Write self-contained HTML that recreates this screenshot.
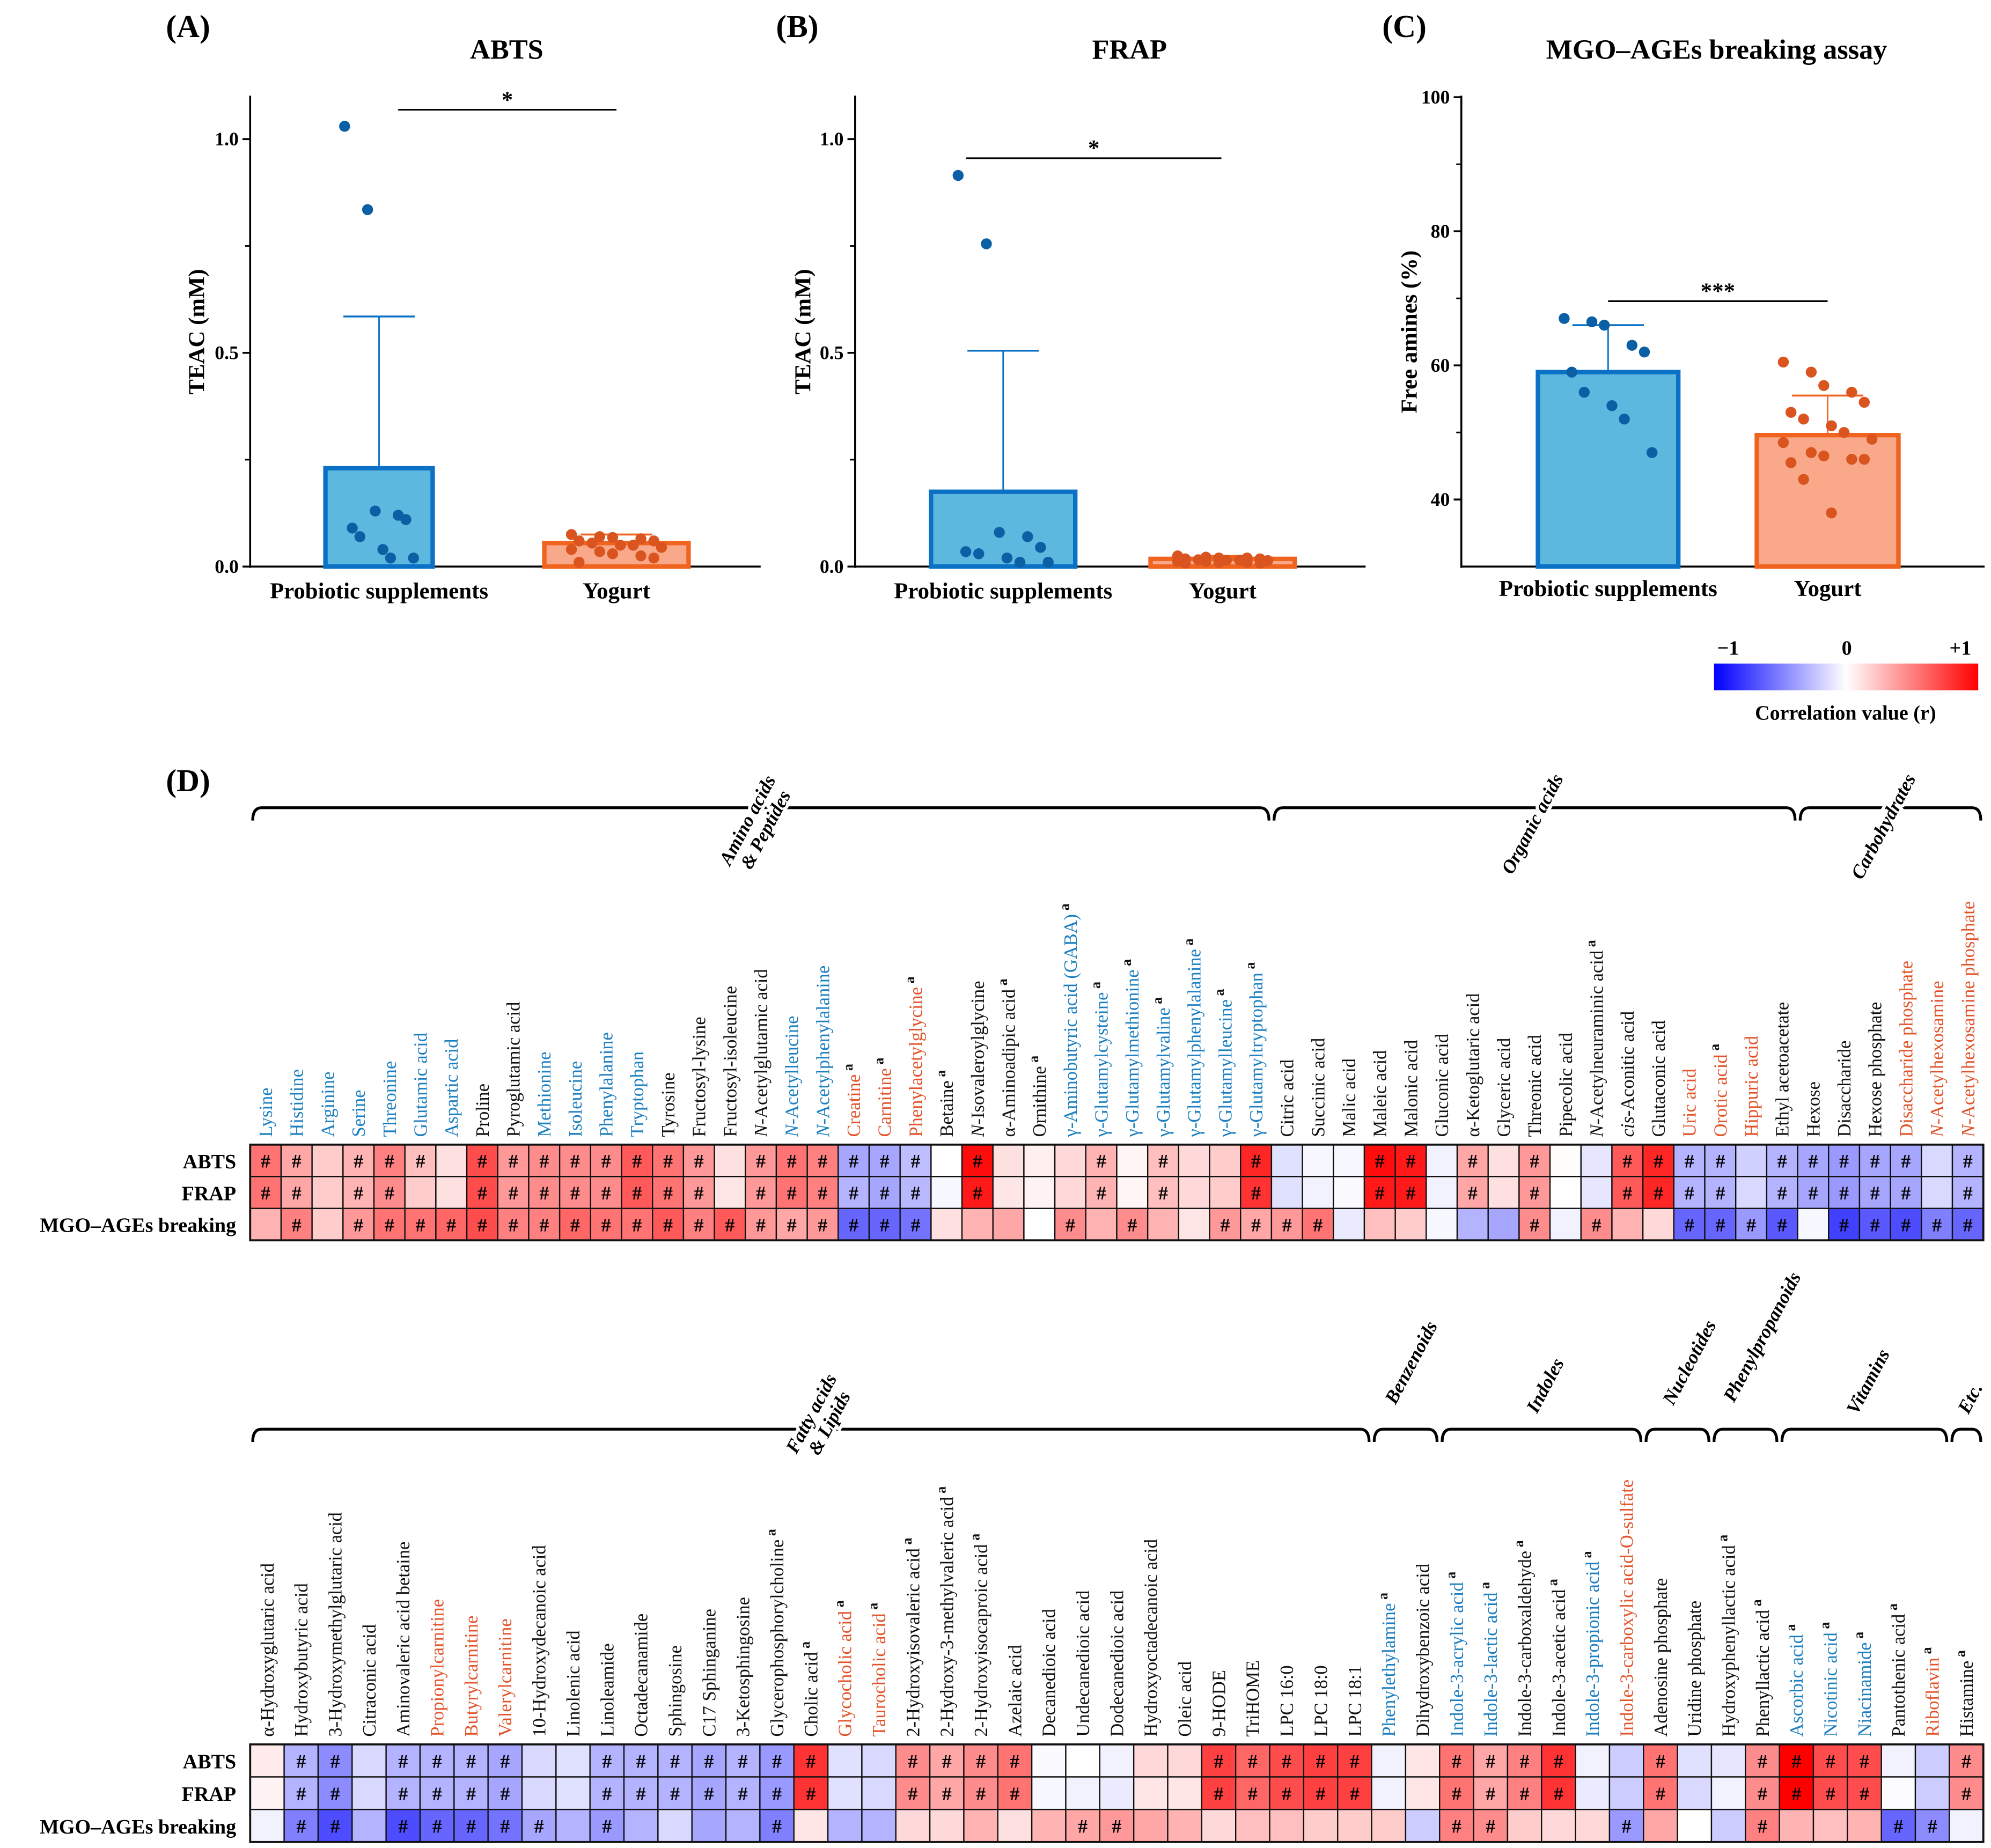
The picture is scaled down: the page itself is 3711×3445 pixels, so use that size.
<!DOCTYPE html>
<html><head><meta charset="utf-8"><style>
html,body{margin:0;padding:0;background:#fff}
svg{display:block}
text{font-family:"Liberation Serif",serif}
</style></head><body>
<svg id="fig" xmlns="http://www.w3.org/2000/svg" width="3711" height="3445" viewBox="0 0 1560 1448.2">
<g id="g"></g>
</svg>
<script>
// ---------- bar chart data ----------
const groups = ["Probiotic supplements","Yogurt"];
const abtsMeans = [0.23, 0.055];
const abtsErr = [0.585, 0.075];
const abtsProb = [1.03,0.835,0.13,0.12,0.11,0.09,0.07,0.04,0.02,0.02];
const abtsYog = [0.075,0.07,0.068,0.065,0.06,0.06,0.055,0.05,0.05,0.045,0.04,0.035,0.03,0.025,0.02,0.01];
const frapMeans = [0.175, 0.018];
const frapErr = [0.505, 0.025];
const frapProb = [0.915,0.755,0.08,0.07,0.045,0.035,0.03,0.02,0.01,0.01];
const frapYog = [0.025,0.022,0.02,0.02,0.018,0.018,0.016,0.015,0.015,0.014,0.012,0.012,0.01,0.01,0.008,0.008];
const mgoMeans = [59, 49.6];
const mgoErr = [66, 55.5];
const mgoProb = [67,66.5,66,63,62,59,56,54,52,47];
const mgoYog = [60.5,59,57,56,54.5,53,52,51,50,49,48.5,47,46.5,46,46,45.5,43,38];
const tickABTS = [0,0.5,1.0];
const tickABTSLabels = ["0.0","0.5","1.0"];
const tickMGO = [40,60,80,100];

// ---------- heatmap data ----------
const topNames = ["Lysine","Histidine","Arginine","Serine","Threonine","Glutamic acid","Aspartic acid","Proline","Pyroglutamic acid","Methionine","Isoleucine","Phenylalanine","Tryptophan","Tyrosine","Fructosyl-lysine","Fructosyl-isoleucine","N-Acetylglutamic acid","N-Acetylleucine","N-Acetylphenylalanine","Creatine","Carnitine","Phenylacetylglycine","Betaine","N-Isovaleroylglycine","α-Aminoadipic acid","Ornithine","γ-Aminobutyric acid (GABA)","γ-Glutamylcysteine","γ-Glutamylmethionine","γ-Glutamylvaline","γ-Glutamylphenylalanine","γ-Glutamylleucine","γ-Glutamyltryptophan","Citric acid","Succinic acid","Malic acid","Maleic acid","Malonic acid","Gluconic acid","α-Ketoglutaric acid","Glyceric acid","Threonic acid","Pipecolic acid","N-Acetylneuraminic acid","cis-Aconitic acid","Glutaconic acid","Uric acid","Orotic acid","Hippuric acid","Ethyl acetoacetate","Hexose","Disaccharide","Hexose phosphate","Disaccharide phosphate","N-Acetylhexosamine","N-Acetylhexosamine phosphate"];
const topLabelTone = ["b","b","b","b","b","b","b","k","k","b","b","b","b","k","k","k","k","b","b","o","o","o","k","k","k","k","b","b","b","b","b","b","b","k","k","k","k","k","k","k","k","k","k","k","k","k","o","o","o","k","k","k","k","o","o","o"];
const topSup = [19,20,21,22,24,25,26,27,28,29,30,31,32,43,47];
const topAbts = [0.55,0.35,0.2,0.3,0.5,0.25,0.12,0.7,0.4,0.45,0.45,0.45,0.65,0.55,0.4,0.12,0.4,0.55,0.5,-0.35,-0.35,-0.25,0,0.95,0.12,0.06,0.15,0.3,0.04,0.25,0.15,0.2,0.85,-0.12,-0.03,-0.03,0.95,0.9,-0.05,0.35,0.12,0.4,0.01,-0.1,0.65,0.85,-0.3,-0.3,-0.18,-0.3,-0.35,-0.4,-0.35,-0.35,-0.15,-0.3];
const topFrap = [0.55,0.35,0.2,0.3,0.45,0.2,0.12,0.7,0.4,0.45,0.45,0.45,0.65,0.55,0.4,0.1,0.4,0.55,0.5,-0.3,-0.35,-0.28,-0.03,0.9,0.1,0.05,0.15,0.3,0.04,0.25,0.15,0.2,0.8,-0.12,-0.05,-0.02,0.9,0.9,-0.05,0.35,0.12,0.4,0,-0.1,0.65,0.85,-0.3,-0.3,-0.15,-0.3,-0.35,-0.4,-0.35,-0.35,-0.15,-0.3];
const topMgo = [0.3,0.5,0.2,0.4,0.55,0.55,0.6,0.7,0.5,0.5,0.6,0.55,0.55,0.65,0.5,0.65,0.4,0.35,0.4,-0.6,-0.6,-0.55,0.12,0.3,0.35,0,0.45,0.3,0.45,0.3,0.1,0.4,0.35,0.4,0.55,-0.08,0.25,0.2,-0.03,-0.3,-0.35,0.45,-0.05,0.45,0.3,0.15,-0.6,-0.6,-0.4,-0.65,-0.03,-0.75,-0.65,-0.7,-0.5,-0.6];
const topSigAbts = [1,1,0,1,1,1,0,1,1,1,1,1,1,1,1,0,1,1,1,1,1,1,0,1,0,0,0,1,0,1,0,0,1,0,0,0,1,1,0,1,0,1,0,0,1,1,1,1,0,1,1,1,1,1,0,1];
const topSigFrap = [1,1,0,1,1,0,0,1,1,1,1,1,1,1,1,0,1,1,1,1,1,1,0,1,0,0,0,1,0,1,0,0,1,0,0,0,1,1,0,1,0,1,0,0,1,1,1,1,0,1,1,1,1,1,0,1];
const topSigMgo = [0,1,0,1,1,1,1,1,1,1,1,1,1,1,1,1,1,1,1,1,1,1,0,0,0,0,1,0,1,0,0,1,1,1,1,0,0,0,0,0,0,1,0,1,0,0,1,1,1,1,0,1,1,1,1,1];

const botNames = ["α-Hydroxyglutaric acid","Hydroxybutyric acid","3-Hydroxymethylglutaric acid","Citraconic acid","Aminovaleric acid betaine","Propionylcarnitine","Butyrylcarnitine","Valerylcarnitine","10-Hydroxydecanoic acid","Linolenic acid","Linoleamide","Octadecanamide","Sphingosine","C17 Sphinganine","3-Ketosphingosine","Glycerophosphorylcholine","Cholic acid","Glycocholic acid","Taurocholic acid","2-Hydroxyisovaleric acid","2-Hydroxy-3-methylvaleric acid","2-Hydroxyisocaproic acid","Azelaic acid","Decanedioic acid","Undecanedioic acid","Dodecanedioic acid","Hydroxyoctadecanoic acid","Oleic acid","9-HODE","TriHOME","LPC 16:0","LPC 18:0","LPC 18:1","Phenylethylamine","Dihydroxybenzoic acid","Indole-3-acrylic acid","Indole-3-lactic acid","Indole-3-carboxaldehyde","Indole-3-acetic acid","Indole-3-propionic acid","Indole-3-carboxylic acid-O-sulfate","Adenosine phosphate","Uridine phosphate","Hydroxyphenyllactic acid","Phenyllactic acid","Ascorbic acid","Nicotinic acid","Niacinamide","Pantothenic acid","Riboflavin","Histamine"];
const botLabelTone = ["k","k","k","k","k","o","o","o","k","k","k","k","k","k","k","k","k","o","o","k","k","k","k","k","k","k","k","k","k","k","k","k","k","b","k","b","b","k","k","b","o","k","k","k","k","b","b","b","k","o","k"];
const botSup = [15,16,17,18,19,20,21,33,35,36,37,38,39,43,44,45,46,47,48,49,50];
const botAbts = [0.08,-0.3,-0.45,-0.15,-0.3,-0.3,-0.3,-0.35,-0.15,-0.12,-0.3,-0.3,-0.3,-0.35,-0.3,-0.4,0.8,-0.12,-0.15,0.45,0.35,0.45,0.55,-0.02,0,-0.05,0.15,0.15,0.75,0.6,0.7,0.75,0.75,-0.05,0.1,0.55,0.35,0.5,0.8,-0.05,-0.2,0.55,-0.12,-0.1,0.45,1.0,0.7,0.7,-0.05,-0.2,0.45];
const botFrap = [0.05,-0.3,-0.45,-0.15,-0.3,-0.3,-0.3,-0.35,-0.15,-0.12,-0.3,-0.3,-0.3,-0.35,-0.3,-0.4,0.8,-0.12,-0.15,0.45,0.35,0.45,0.55,-0.03,-0.05,-0.08,0.1,0.1,0.75,0.6,0.7,0.75,0.75,-0.05,0.1,0.55,0.35,0.5,0.8,-0.08,-0.2,0.55,-0.15,-0.05,0.45,1.0,0.7,0.7,-0.01,-0.2,0.45];
const botMgo = [-0.05,-0.5,-0.7,-0.3,-0.7,-0.6,-0.6,-0.55,-0.35,-0.3,-0.4,-0.3,-0.15,-0.35,-0.3,-0.5,0.1,-0.3,-0.3,0.15,0.15,0.3,0.12,0.3,0.35,0.4,0.35,0.3,0.15,0.25,0.25,0.2,0.2,0.2,-0.2,0.5,0.45,0.2,0.15,0.15,-0.4,0.35,0,-0.2,0.5,0.3,0.25,0.3,-0.6,-0.45,-0.05];
const botSigAbts = [0,1,1,0,1,1,1,1,0,0,1,1,1,1,1,1,1,0,0,1,1,1,1,0,0,0,0,0,1,1,1,1,1,0,0,1,1,1,1,0,0,1,0,0,1,1,1,1,0,0,1];
const botSigFrap = botSigAbts.slice();
const botSigMgo = [0,1,1,0,1,1,1,1,1,0,1,0,0,0,0,1,0,0,0,0,0,0,0,0,1,1,0,0,0,0,0,0,0,0,0,1,1,0,0,0,1,0,0,0,1,0,0,0,1,1,0];

const NS="http://www.w3.org/2000/svg";
const root=document.getElementById('g');
function el(tag,attrs,parent,txt){const e=document.createElementNS(NS,tag);for(const k in attrs)e.setAttribute(k,attrs[k]);if(txt!==undefined)e.textContent=txt;(parent||root).appendChild(e);return e;}

// ---------- bar panels ----------
function panel(opt){
  const g=el('g',{});
  
  
  const y0=444, ytop=75;
  const sy=v=>y0-(v-opt.min)*opt.k;
  const ax=el('line',{x1:opt.ax,y1:ytop,x2:opt.ax,y2:y0+1,stroke:'#000','stroke-width':1.5},g);
  
  
  const xa=el('line',{x1:opt.ax,y1:y0,x2:opt.ax+opt.xlen,y2:y0,stroke:'#000','stroke-width':1.5},g);
  
  
  opt.ticks.forEach((t,i)=>{
    el('line',{x1:opt.ax-6,y1:sy(t),x2:opt.ax,y2:sy(t),stroke:'#000','stroke-width':1.5},g);
    const tl=el('text',{x:opt.ax-9,y:sy(t)+5,'text-anchor':'end','font-size':15,'font-weight':'bold'},g,opt.tickLabels[i]);
    
    
  });
  if(opt.minor){opt.minor.forEach(t=>el('line',{x1:opt.ax-4,y1:sy(t),x2:opt.ax,y2:sy(t),stroke:'#000','stroke-width':1.2},g));}
  const cols=[{f:'#5db8e0',s:'#0a71c4',p:'#0b5fa5'},{f:'#f9a98a',s:'#f06420',p:'#d9541e'}];
  opt.bars.forEach((b,i)=>{
    const c=cols[i];
    const top=sy(opt.means[i]);
    const eTop=sy(opt.err[i]);
    const el1=el('line',{x1:b.cx,y1:top,x2:b.cx,y2:eTop,stroke:c.s,'stroke-width':1.2},g);
    
    
    el('line',{x1:b.cx-b.cap,y1:eTop,x2:b.cx+b.cap,y2:eTop,stroke:c.s,'stroke-width':1.5},g);
    const r=el('rect',{x:b.cx-b.w/2,y:top,width:b.w,height:y0-top,fill:c.f,stroke:c.s,'stroke-width':3.5},g);
    
    
    const pts=opt.pts[i];
    pts.forEach((v,j)=>{
      const off=((j%5)-2)*b.w/7 + ((j%2)?3:-3);
      const cc=el('circle',{cx:b.cx+off,cy:sy(v),r:4.3,fill:c.p},g);
      
      
    });
    const xl=el('text',{x:b.cx,y:opt.xly,'text-anchor':'middle','font-size':18,'font-weight':'bold'},g,groups[i]);
    
    
  });
  const sl=el('line',{x1:opt.sig[0],y1:opt.sig[2],x2:opt.sig[1],y2:opt.sig[2],stroke:'#000','stroke-width':1.3},g);
  
  
  const st=el('text',{x:(opt.sig[0]+opt.sig[1])/2,y:opt.sig[2]-2,'text-anchor':'middle','font-size':18,'font-weight':'bold'},g,opt.star);
  
  
  const yl=el('text',{x:0,y:0,transform:`translate(${opt.ylx},260) rotate(-90)`,'text-anchor':'middle','font-size':18,'font-weight':'bold'},g,opt.ylabel);
  
  
  const tt=el('text',{x:opt.tx,y:46,'text-anchor':'middle','font-size':22,'font-weight':'bold'},g,opt.title);
  
  
  const pl=el('text',{x:opt.px,y:29,'text-anchor':'start','font-size':25,'font-weight':'bold'},g,opt.plabel);
  
  
}
panel({name:'abts-chart',ax:196,xlen:400,min:0,k:335,ticks:tickABTS,tickLabels:tickABTSLabels,minor:[0.25,0.75],
  bars:[{cx:297,w:84,cap:28},{cx:483,w:113,cap:28}],means:abtsMeans,err:abtsErr,pts:[abtsProb,abtsYog],xly:469,
  sig:[312,483,86],star:'*',ylabel:'TEAC (mM)',ylx:160,title:'ABTS',tx:397,plabel:'(A)',px:130});
panel({name:'frap-chart',ax:670,xlen:400,min:0,k:335,ticks:tickABTS,tickLabels:tickABTSLabels,minor:[0.25,0.75],
  bars:[{cx:786,w:113,cap:28},{cx:958,w:113,cap:20}],means:frapMeans,err:frapErr,pts:[frapProb,frapYog],xly:469,
  sig:[757,957,124],star:'*',ylabel:'TEAC (mM)',ylx:635,title:'FRAP',tx:885,plabel:'(B)',px:608});
panel({name:'mgo-chart',ax:1145,xlen:410,min:30,k:5.255,ticks:tickMGO,tickLabels:tickMGO.map(String),minor:[50,70,90],
  bars:[{cx:1260,w:110,cap:28},{cx:1432,w:111,cap:28}],means:mgoMeans,err:mgoErr,pts:[mgoProb,mgoYog],xly:467,
  sig:[1260,1432,236],star:'***',ylabel:'Free amines (%)',ylx:1110,title:'MGO–AGEs breaking assay',tx:1345,plabel:'(C)',px:1083});

// ---------- colorbar ----------
const defs=el('defs',{});
const lg=el('linearGradient',{id:'cb',x1:0,x2:1,y1:0,y2:0},defs);
el('stop',{offset:0,'stop-color':'#0000ff'},lg);el('stop',{offset:0.5,'stop-color':'#ffffff'},lg);el('stop',{offset:1,'stop-color':'#ff0000'},lg);
const cb=el('rect',{x:1343,y:520,width:207,height:21,fill:'url(#cb)'});


[['−1',1354],['0',1447],['+1',1536]].forEach(a=>{const t=el('text',{x:a[1],y:513,'text-anchor':'middle','font-size':16,'font-weight':'bold'},root,a[0]);
  
  });
const cbt=el('text',{x:1446,y:564,'text-anchor':'middle','font-size':16,'font-weight':'bold'},root,'Correlation value (r)');


const dl=el('text',{x:130,y:620,'font-size':25,'font-weight':'bold'},root,'(D)');



// ---------- heatmaps ----------
function color(r){
  r=Math.max(-1,Math.min(1,r));
  if(r>=0){const v=Math.round(255*(1-r));return `rgb(255,${v},${v})`;}
  const v=Math.round(255*(1+r));return `rgb(${v},${v},255)`;
}
const toneCol={b:'#1c7fc0',o:'#e2532a',k:'#111'};
const italicPref=["N-","cis-"];
function heat(opt){
  const g=el('g',{});
  
  
  const n=opt.names.length, x0=196, x1=1554, cw=(x1-x0)/n;
  const rows=[[opt.a,opt.sa],[opt.f,opt.sf],[opt.m,opt.sm]];
  ['ABTS','FRAP','MGO–AGEs breaking'].forEach((lab,ri)=>{
    const t=el('text',{x:185,y:opt.y+ri*opt.rh+opt.rh/2+6,'text-anchor':'end','font-size':16,'font-weight':'bold'},g,lab);
    
    
  });
  rows.forEach((row,ri)=>{
    row[0].forEach((v,ci)=>{
      const r=el('rect',{x:x0+ci*cw,y:opt.y+ri*opt.rh,width:cw,height:opt.rh,fill:color(v),stroke:'#111','stroke-width':1},g);
      
      
      if(row[1][ci]){
        const h=el('text',{x:x0+ci*cw+cw/2,y:opt.y+ri*opt.rh+opt.rh/2+5.5,'text-anchor':'middle','font-size':15,'font-weight':'bold'},g,'#');
        
        
      }
    });
  });
  el('rect',{x:x0,y:opt.y,width:x1-x0,height:opt.rh*3,fill:'none',stroke:'#111','stroke-width':1.6},g);
  opt.names.forEach((nm,ci)=>{
    const cx=x0+ci*cw+cw/2+5;
    const t=el('text',{transform:`translate(${cx},${opt.y-6}) rotate(-90)`,'font-size':14.5,fill:toneCol[opt.tones[ci]]},g);
    
    
    let rest=nm;
    for(const p of italicPref){ if(nm.startsWith(p)){ el('tspan',{'font-style':'italic'},t,p.slice(0,-1)); rest='-'+nm.slice(p.length); break; } }
    el('tspan',{},t,rest);
    if(opt.sup.includes(ci)) el('tspan',{'font-size':11,'font-weight':'bold',dy:-6,fill:'#111'},t,' a');
  });
  opt.groups.forEach(gr=>{
    const a=x0+gr[0]*cw+2, b=x0+(gr[1]+1)*cw-2, yb=opt.by;
    const p=el('path',{d:`M${a},${yb+10} Q${a},${yb} ${a+7},${yb} L${b-7},${yb} Q${b},${yb} ${b},${yb+10}`,fill:'none',stroke:'#000','stroke-width':2.2},g);
    
    
    const lines=gr[2].split('|');
    const t=el('text',{transform:`translate(${gr[3][0]},${gr[3][1]}) rotate(-62)`,'text-anchor':'middle','font-size':15,'font-style':'italic','font-weight':'bold',stroke:'#fff','stroke-width':5,'paint-order':'stroke'},g);
    
    
    lines.forEach((l,i)=>el('tspan',{x:0,dy:i?16:0},t,l));
  });
}
heat({name:'heatmap-top',names:topNames,tones:topLabelTone,sup:topSup,y:897,rh:25,
  a:topAbts,f:topFrap,m:topMgo,sa:topSigAbts,sf:topSigFrap,sm:topSigMgo,by:633,
  groups:[[0,32,'Amino acids|& Peptides',[590,645]],[33,49,'Organic acids',[1205,648]],[50,55,'Carbohydrates',[1480,650]]]});
heat({name:'heatmap-bottom',names:botNames,tones:botLabelTone,sup:botSup,y:1367,rh:25.5,
  a:botAbts,f:botFrap,m:botMgo,sa:botSigAbts,sf:botSigFrap,sm:botSigMgo,by:1120,
  groups:[[0,32,'Fatty acids|& Lipids',[640,1110]],[33,34,'Benzenoids',[1110,1070]],[35,40,'Indoles',[1215,1088]],[41,42,'Nucleotides',[1328,1070]],[43,44,'Phenylpropanoids',[1385,1050]],[45,49,'Vitamins',[1468,1085]],[50,50,'Etc.',[1548,1098]]]});
</script>
</body></html>
